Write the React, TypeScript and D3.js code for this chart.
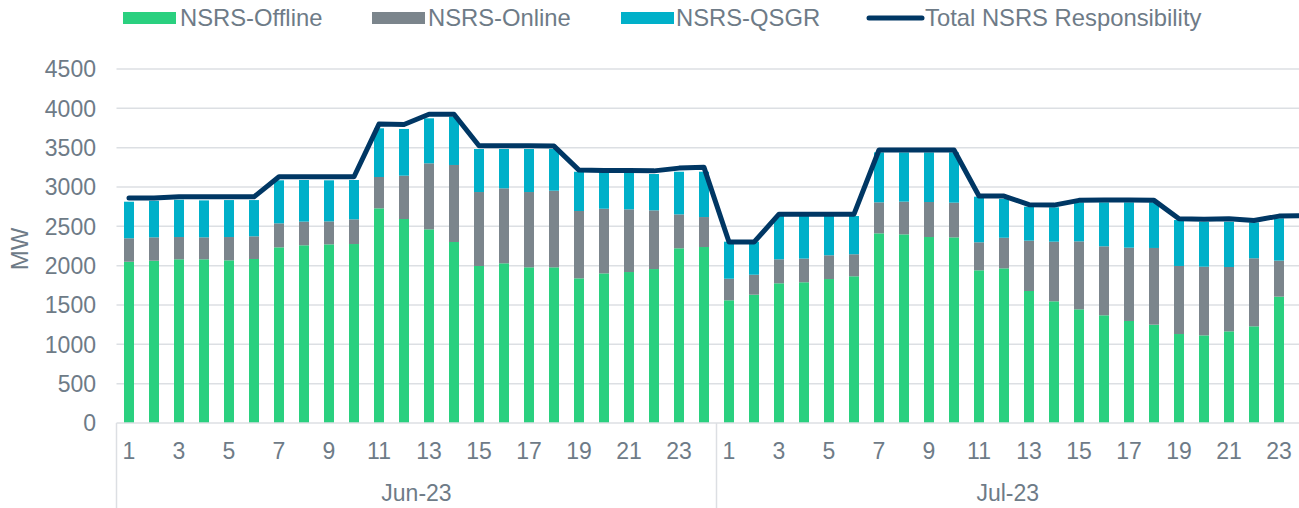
import React from "react";
import * as d3 from "d3";

const months = ["Jun-23", "Jul-23"];
const days = [1, 2, 3, 4, 5, 6, 7, 8, 9, 10, 11, 12, 13, 14, 15, 16, 17, 18, 19, 20, 21, 22, 23, 24];

// MW per day, Jun then Jul
const offline = [
  2050, 2063, 2081, 2081, 2068, 2085, 2233, 2259, 2271, 2275, 2729, 2593, 2462, 2301, 1996, 2030, 1979, 1979, 1839, 1902, 1919, 1957, 2221, 2237,
  1560, 1631, 1776, 1789, 1830, 1865, 2411, 2398, 2364, 2360, 1941, 1966, 1678, 1547, 1445, 1369, 1297, 1250, 1131, 1114, 1165, 1229, 1606, 1600,
];
const online = [
  298, 297, 283, 279, 296, 288, 305, 301, 292, 314, 398, 551, 839, 979, 940, 953, 957, 974, 856, 822, 797, 746, 431, 381,
  274, 254, 305, 301, 302, 280, 394, 416, 445, 441, 356, 389, 640, 758, 864, 877, 932, 975, 865, 873, 818, 865, 458, 460,
];
const qsgr = [
  465, 466, 474, 470, 470, 461, 547, 529, 522, 500, 619, 594, 572, 614, 547, 500, 547, 530, 499, 466, 474, 462, 542, 576,
  471, 420, 550, 541, 499, 486, 635, 626, 631, 639, 580, 495, 432, 437, 496, 559, 576, 580, 584, 572, 576, 456, 538, 540,
];
const total = [
  2860, 2860, 2875, 2875, 2875, 2875, 3130, 3130, 3130, 3130, 3800, 3795, 3925, 3925, 3525, 3525, 3525, 3520, 3215, 3210, 3210, 3205, 3240, 3250,
  2300, 2300, 2655, 2655, 2655, 2655, 3470, 3470, 3470, 3470, 2885, 2885, 2775, 2770, 2830, 2835, 2835, 2830, 2595, 2590, 2595, 2575, 2630, 2635,
];
const yTicks = [0, 500, 1000, 1500, 2000, 2500, 3000, 3500, 4000, 4500];

const seriesKeys = ["offline", "online", "qsgr"];
const colors: Record<string, string> = { offline: "#2ad07f", online: "#7b858c", qsgr: "#00b0c9" };
const lineColor = "#003764";
const textColor = "#6e7b87";
const gridColor = "#dcdfe3";
const font = "'Liberation Sans', Arial, sans-serif";

const W = 1299;
const H = 508;
const plotLeft = 116.5;
const y0 = 423;
const yTop = 69;

export default function App() {
  const cats = months.flatMap((m) => days.map((d) => `${m}|${d}`));
  const rows = cats.map((c, i) => ({ c, offline: offline[i], online: online[i], qsgr: qsgr[i], total: total[i] }));

  // 25px per day; the Jul group runs past the right edge and gets clipped
  const x = d3.scaleBand().domain(cats).range([plotLeft, plotLeft + cats.length * 25]).paddingInner(0.6).paddingOuter(0.3);
  const y = d3.scaleLinear().domain([0, 4500]).range([y0, yTop]);
  const stack = d3.stack<any>().keys(seriesKeys)(rows);
  const cx = (c: string) => (x(c) as number) + x.bandwidth() / 2;
  const line = d3.line<any>().x((d) => cx(d.c)).y((d) => y(d.total));

  const sep = [plotLeft, plotLeft + 24 * 25, plotLeft + 48 * 25];

  const legend = [
    { label: "NSRS-Offline", key: "offline", sx: 123, tx: 180 },
    { label: "NSRS-Online", key: "online", sx: 372, tx: 428 },
    { label: "NSRS-QSGR", key: "qsgr", sx: 621, tx: 676 },
    { label: "Total NSRS Responsibility", key: "total", sx: 869, tx: 925 },
  ];

  return (
    <svg width={W} height={H} style={{ position: "absolute", left: 0, top: 0, overflow: "hidden", background: "#fff" }} fontFamily={font}>
      {/* legend */}
      {legend.map((l) => (
        <g key={l.key}>
          {l.key === "total" ? (
            <line x1={l.sx} x2={l.sx + 53} y1={18} y2={18} stroke={lineColor} strokeWidth={5} strokeLinecap="round" />
          ) : (
            <rect x={l.sx} y={12} width={53} height={12} fill={colors[l.key]} />
          )}
          <text x={l.tx} y={26} fontSize={23.8} fill={textColor}>{l.label}</text>
        </g>
      ))}

      {/* grid + y axis */}
      {yTicks.map((t) => (
        <g key={t}>
          {t > 0 && <line x1={plotLeft} x2={W} y1={y(t)} y2={y(t)} stroke={gridColor} strokeWidth={1.5} />}
          <text x={96} y={y(t)} dy="0.36em" textAnchor="end" fontSize={23} fill={textColor}>{t}</text>
        </g>
      ))}
      <text transform={`translate(28,249) rotate(-90)`} textAnchor="middle" fontSize={24} fill={textColor}>MW</text>

      {/* bars */}
      {stack.map((s) => (
        <g key={s.key} fill={colors[s.key]}>
          {s.map((d: any) => (
            <rect key={d.data.c} x={x(d.data.c)} width={x.bandwidth()} y={y(d[1])} height={y(d[0]) - y(d[1])} />
          ))}
        </g>
      ))}

      {/* x axis */}
      <line x1={plotLeft} x2={W} y1={y0} y2={y0} stroke={gridColor} strokeWidth={1.5} />
      {sep.map((s) => (
        <line key={s} x1={s} x2={s} y1={y0} y2={H} stroke={gridColor} strokeWidth={1.5} />
      ))}
      {rows.map((r, i) =>
        i % 2 === 0 ? (
          <text key={r.c} x={cx(r.c)} y={459} textAnchor="middle" fontSize={23} fill={textColor}>
            {days[i % 24]}
          </text>
        ) : null
      )}
      {months.map((m, i) => {
        const a = sep[i];
        const b = Math.min(sep[i + 1], W);
        return (
          <text key={m} x={(a + b) / 2} y={501} textAnchor="middle" fontSize={23} fill={textColor}>{m}</text>
        );
      })}

      {/* total line */}
      <path d={line(rows) as string} fill="none" stroke={lineColor} strokeWidth={5} strokeLinejoin="round" strokeLinecap="round" />
    </svg>
  );
}
